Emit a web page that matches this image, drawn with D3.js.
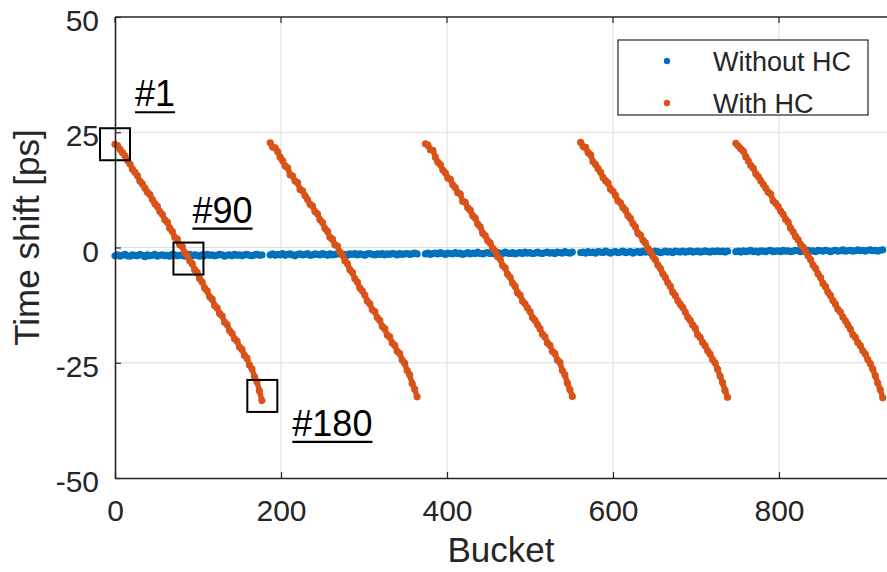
<!DOCTYPE html>
<html>
<head>
<meta charset="utf-8">
<script src="https://cdn.jsdelivr.net/npm/d3@7/dist/d3.min.js"></script>
<style>
    html, body { margin: 0; padding: 0; background: #fff; }
    svg { display: block; }
    .tick text { font-family: "Liberation Sans", Arial, sans-serif; fill: #262626; }
    .axis-title { font-family: "Liberation Sans", Arial, sans-serif; fill: #262626; }
    .annotation { font-family: "Liberation Sans", Arial, sans-serif; fill: #000; }
</style>
</head>
<body>
<svg id="chart" width="887" height="572"></svg>
<script>
"use strict";

// ---- data ----

// first bucket of every 180-bucket block; samples every 3rd bucket
const GROUP_START = [0, 187, 374, 561, 748];
const BUCKET_STEP = 3;

const WITHOUT_HC = [
    [-1.8, -1.6, -1.9, -1.7, -1.5, -1.8, -1.9, -1.6, -1.7, -1.8, -1.5, -1.7, -2.0, -1.6, -1.8, -1.7, -1.5, -1.9, -1.7, -1.6,
     -1.8, -1.7, -1.9, -1.5, -1.6, -1.8, -1.7, -1.6, -1.9, -1.7, -1.5, -1.8, -1.6, -1.7, -1.9, -1.6, -1.8, -1.5, -1.7, -1.6,
     -1.8, -1.7, -1.5, -1.6, -1.9, -1.7, -1.6, -1.8, -1.5, -1.7, -1.6, -1.8, -1.6, -1.5, -1.7, -1.8, -1.6, -1.5, -1.7, -1.6],
    [-1.6, -1.4, -1.7, -1.5, -1.6, -1.3, -1.7, -1.5, -1.4, -1.6, -1.8, -1.5, -1.4, -1.6, -1.5, -1.3, -1.7, -1.6, -1.4, -1.5,
     -1.6, -1.3, -1.5, -1.7, -1.4, -1.6, -1.5, -1.4, -1.3, -1.6, -1.5, -1.7, -1.4, -1.5, -1.3, -1.6, -1.4, -1.5, -1.7, -1.4,
     -1.3, -1.5, -1.6, -1.4, -1.5, -1.3, -1.6, -1.4, -1.5, -1.3, -1.4, -1.6, -1.3, -1.5, -1.4, -1.3, -1.5, -1.4, -1.2, -1.4],
    [-1.4, -1.2, -1.5, -1.3, -1.2, -1.4, -1.1, -1.3, -1.5, -1.2, -1.3, -1.4, -1.1, -1.3, -1.2, -1.5, -1.3, -1.1, -1.4, -1.2,
     -1.3, -1.0, -1.3, -1.4, -1.2, -1.1, -1.3, -1.2, -1.4, -1.1, -1.2, -1.3, -1.0, -1.2, -1.3, -1.1, -1.4, -1.2, -1.1, -1.3,
     -1.0, -1.2, -1.1, -1.3, -1.2, -1.0, -1.2, -1.3, -1.1, -1.0, -1.2, -1.1, -1.3, -1.0, -1.1, -1.2, -0.9, -1.1, -1.2, -1.0],
    [-1.1, -1.0, -1.2, -0.9, -1.1, -1.0, -1.2, -0.9, -1.0, -1.1, -0.8, -1.0, -1.2, -1.0, -0.9, -1.1, -1.0, -0.8, -1.1, -1.0,
     -0.9, -1.2, -1.0, -0.9, -1.1, -0.8, -1.0, -0.9, -1.1, -1.0, -0.8, -0.9, -1.1, -1.0, -0.8, -1.0, -0.9, -1.1, -0.8, -0.9,
     -1.0, -0.8, -1.0, -0.9, -0.7, -1.0, -0.9, -0.8, -1.0, -0.9, -0.7, -0.9, -1.0, -0.8, -0.9, -0.7, -0.9, -0.8, -1.0, -0.8],
    [-0.9, -0.8, -1.0, -0.7, -0.9, -0.8, -0.6, -0.9, -0.8, -1.0, -0.7, -0.8, -0.9, -0.7, -0.6, -0.9, -0.8, -0.7, -0.9, -0.6,
     -0.8, -0.7, -0.9, -0.8, -0.6, -0.7, -0.9, -0.8, -0.7, -0.6, -0.8, -0.7, -0.9, -0.6, -0.7, -0.8, -0.6, -0.7, -0.9, -0.7,
     -0.6, -0.8, -0.7, -0.5, -0.8, -0.7, -0.6, -0.8, -0.7, -0.5, -0.7, -0.6, -0.8, -0.6, -0.5, -0.7, -0.6, -0.8, -0.6, -0.5],
];

const WITH_HC = [
    [22.4, 22.1, 21.3, 20.6, 19.9, 18.9, 18.1, 17.0, 16.3, 15.6, 14.4, 13.8, 12.9, 12.0, 11.5, 10.4, 9.5, 8.9, 7.8, 7.2,
     6.0, 5.5, 4.2, 3.5, 2.2, 1.8, 0.6, 0.2, -1.1, -1.7, -2.9, -3.5, -4.8, -5.4, -6.8, -7.5, -8.8, -9.4, -10.7, -11.2,
     -12.6, -13.1, -14.3, -14.8, -16.2, -16.7, -18.0, -18.6, -19.8, -20.3, -21.6, -22.1, -23.4, -24.0, -25.5, -26.3, -28.0, -29.1, -31.1, -33.2],
    [22.7, 21.8, 21.6, 20.8, 19.6, 18.8, 17.7, 17.3, 15.8, 15.5, 14.4, 14.1, 12.6, 12.3, 11.2, 10.4, 9.4, 9.0, 7.8, 7.3,
     6.0, 5.4, 4.1, 3.5, 2.2, 1.8, 0.6, 0.3, -1.0, -1.6, -2.9, -3.5, -4.8, -5.4, -6.8, -7.5, -8.8, -9.4, -10.3, -11.6,
     -12.2, -13.5, -13.9, -15.2, -15.8, -17.1, -17.6, -19.0, -19.4, -20.7, -21.2, -22.5, -23.0, -24.4, -25.1, -26.7, -27.6, -29.5, -30.7, -32.4],
    [22.5, 22.2, 21.2, 21.1, 19.6, 18.5, 18.0, 16.8, 16.2, 15.1, 14.8, 13.6, 13.0, 11.9, 11.6, 10.0, 9.8, 8.6, 8.1, 6.9,
     6.4, 5.1, 4.5, 3.1, 2.6, 1.5, 1.0, -0.2, -0.7, -2.0, -2.5, -3.9, -4.4, -5.8, -6.4, -7.7, -8.4, -9.8, -10.3, -11.6,
     -12.2, -13.1, -13.9, -15.2, -15.8, -16.7, -17.6, -18.8, -19.4, -20.7, -21.2, -22.5, -23.0, -24.4, -24.9, -26.7, -27.6, -29.4, -30.8, -32.3],
    [22.8, 21.9, 21.7, 20.6, 20.1, 18.6, 18.0, 17.1, 16.3, 15.2, 14.5, 14.0, 12.7, 12.2, 11.3, 10.1, 9.7, 8.7, 8.1, 6.9,
     6.3, 5.2, 4.5, 3.1, 2.7, 1.6, 1.0, -0.2, -0.8, -1.9, -2.6, -3.8, -4.5, -5.7, -6.5, -7.6, -8.4, -9.7, -10.4, -11.5,
     -12.3, -13.0, -14.0, -15.1, -15.8, -16.8, -17.5, -18.9, -19.5, -20.6, -21.3, -22.4, -23.1, -24.3, -25.0, -26.4, -27.9, -29.3, -31.0, -32.5],
    [22.6, 22.0, 21.4, 20.9, 19.7, 18.8, 17.8, 17.2, 16.0, 15.4, 14.5, 13.7, 12.9, 12.0, 11.6, 10.1, 9.6, 8.9, 7.9, 7.2,
     6.1, 5.5, 4.2, 3.4, 2.4, 1.7, 0.7, 0.1, -0.9, -1.8, -2.6, -3.8, -4.5, -5.7, -6.5, -7.8, -8.5, -9.7, -10.4, -11.5,
     -12.3, -13.4, -14.0, -15.1, -15.9, -16.8, -17.7, -18.9, -19.5, -20.6, -21.3, -22.4, -23.1, -24.3, -25.2, -26.4, -27.8, -29.4, -30.8, -32.6],
];

const SERIES_NAMES = ['Without HC', 'With HC'];
const X_TICKS = [0, 200, 400, 600, 800];
const Y_TICKS = [-50, -25, 0, 25, 50];

// highlighted buckets of the first block
const ANNOT_LABELS = ['#1', '#90', '#180'];
const ANNOT_BUCKET = [0, 88.5, 177.5];
const ANNOT_VALUE = [22.4, -2.4, -32.2];

// ---- layout ----
const LEFT = 115, TOP = 17, BOTTOM = 478;
const COLORS = ['#0072BD', '#D95319'];
const AXIS_COLOR = '#262626';

const svg = d3.select('#chart');

const x = d3.scaleLinear().domain([0, 950]).range([LEFT, LEFT + 950 * 0.83]);
const y = d3.scaleLinear().domain([-50, 50]).range([BOTTOM, TOP]);
const RIGHT = x.range()[1];

/**
 * Turns one block of values into [bucket, value] pairs.
 * @param {number[]} values
 * @param {number} g - block index
 * @return {[number, number][]}
 */
function blockPoints(values, g) {
    return values.map((v, i) => [GROUP_START[g] + i * BUCKET_STEP, v]);
}

// grid
const grid = svg.append('g').attr('stroke', '#dedede').attr('stroke-width', 1);
grid.selectAll('line.vx').data(X_TICKS.filter(d => d > 0)).join('line')
    .attr('x1', d => x(d)).attr('x2', d => x(d)).attr('y1', TOP).attr('y2', BOTTOM);
grid.selectAll('line.hy').data(Y_TICKS.filter(d => d > -50 && d < 50)).join('line')
    .attr('x1', LEFT).attr('x2', RIGHT).attr('y1', d => y(d)).attr('y2', d => y(d));

// data: dense '.' markers; a thick stroke through each block stands in for the
// markers of the buckets in between the sampled ones
const line = d3.line().x(d => x(d[0])).y(d => y(d[1]));
[WITHOUT_HC, WITH_HC].forEach((blocks, s) => {
    const g = svg.append('g');
    blocks.forEach((values, b) => {
        const points = blockPoints(values, b);
        g.append('path').datum(points).attr('d', line)
            .attr('fill', 'none').attr('stroke', COLORS[s])
            .attr('stroke-width', 5.5).attr('stroke-linejoin', 'round').attr('stroke-linecap', 'round');
        g.append('g').attr('fill', COLORS[s])
            .selectAll('circle').data(points).join('circle')
            .attr('cx', d => x(d[0]))
            .attr('cy', d => y(d[1]))
            .attr('r', 3.6);
    });
});

// axes, MATLAB style: ticks pointing inwards, box all round
const xAxis = d3.axisBottom(x).tickValues(X_TICKS).tickFormat(d => String(d))
    .tickSize(-6).tickPadding(22).tickSizeOuter(0);
const yAxis = d3.axisLeft(y).tickValues(Y_TICKS).tickFormat(d => String(d))
    .tickSize(-6).tickPadding(16).tickSizeOuter(0);

const xAxisGroup = svg.append('g').attr('transform', `translate(0,${BOTTOM})`).call(xAxis);
const yAxisGroup = svg.append('g').attr('transform', `translate(${LEFT},0)`).call(yAxis);
for (const g of [xAxisGroup, yAxisGroup]) {
    g.select('.domain').attr('stroke', AXIS_COLOR).attr('stroke-width', 1.6);
    g.selectAll('.tick line').attr('stroke', AXIS_COLOR).attr('stroke-width', 1.2);
    g.selectAll('.tick text').attr('font-size', 30).attr('fill', AXIS_COLOR);
}
yAxisGroup.selectAll('.tick text').attr('dy', '0.45em');

// top edge of the box with its own ticks
svg.append('line')
    .attr('x1', LEFT).attr('x2', RIGHT).attr('y1', TOP).attr('y2', TOP)
    .attr('stroke', AXIS_COLOR).attr('stroke-width', 1.6);
svg.append('g').selectAll('line').data(X_TICKS).join('line')
    .attr('x1', d => x(d)).attr('x2', d => x(d)).attr('y1', TOP).attr('y2', TOP + 6)
    .attr('stroke', AXIS_COLOR).attr('stroke-width', 1.2);

// axis titles
svg.append('text').classed('axis-title', true)
    .attr('x', (LEFT + 887) / 2).attr('y', 562)
    .attr('text-anchor', 'middle').attr('font-size', 35)
    .text('Bucket');
svg.append('text').classed('axis-title', true)
    .attr('transform', `translate(39,${(TOP + BOTTOM) / 2 - 10}) rotate(-90)`)
    .attr('text-anchor', 'middle').attr('font-size', 35)
    .text('Time shift [ps]');

// legend
const legend = svg.append('g').attr('transform', 'translate(618,40)');
legend.append('rect').attr('width', 250).attr('height', 75)
    .attr('fill', '#fff').attr('stroke', AXIS_COLOR).attr('stroke-width', 1.2);
SERIES_NAMES.forEach((name, i) => {
    const row = legend.append('g').attr('transform', `translate(0,${21 + i * 42})`);
    row.append('circle').attr('cx', 49).attr('cy', 0).attr('r', 3.2).attr('fill', COLORS[i]);
    row.append('text').attr('x', 95).attr('y', 10)
        .attr('font-family', '"Liberation Sans", Arial, sans-serif')
        .attr('font-size', 27).attr('fill', AXIS_COLOR)
        .text(name);
});

// boxed buckets with underlined labels
const LABEL_OFFSETS = [[20, -38], [4, -36], [30, 40]];
ANNOT_LABELS.forEach((label, i) => {
    const cx = x(ANNOT_BUCKET[i]);
    const cy = y(ANNOT_VALUE[i]);
    svg.append('rect')
        .attr('x', cx - 15).attr('y', cy - 16).attr('width', 30).attr('height', 32)
        .attr('fill', 'none').attr('stroke', '#000').attr('stroke-width', 2);
    const tx = cx + LABEL_OFFSETS[i][0];
    const ty = cy + LABEL_OFFSETS[i][1];
    const text = svg.append('text').classed('annotation', true)
        .attr('x', tx).attr('y', ty).attr('font-size', 36)
        .text(label);
    const w = text.node().getComputedTextLength();
    svg.append('line')
        .attr('x1', tx).attr('x2', tx + w).attr('y1', ty + 6).attr('y2', ty + 6)
        .attr('stroke', '#000').attr('stroke-width', 2.2);
});
</script>
</body>
</html>
